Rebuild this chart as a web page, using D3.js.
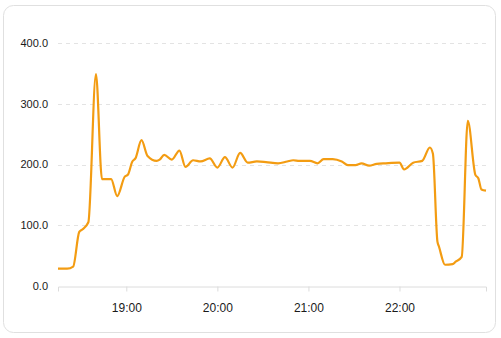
<!DOCTYPE html>
<html>
<head>
<meta charset="utf-8">
<script src="https://cdn.jsdelivr.net/npm/d3@7"></script>
<style>
  html, body { margin: 0; padding: 0; background: #fff; }
  #chart { width: 501px; height: 338px; }
  text { font-family: "Liberation Sans", Arial, sans-serif; }
</style>
</head>
<body>
<div id="chart"></div>
<script>
// sample times (HH:MM) and readings
var times = ["18:15","18:21","18:25","18:29","18:31","18:35","18:40","18:44","18:50","18:54",
  "18:59","19:01","19:04","19:06","19:10","19:14","19:20","19:22","19:25","19:30",
  "19:35","19:39","19:44","19:49","19:55","20:00","20:05","20:10","20:15","20:20",
  "20:26","20:32","20:40","20:46","20:50","20:54","21:01","21:06","21:10","21:16",
  "21:22","21:26","21:31","21:35","21:40","21:45","21:51","22:00","22:03","22:09",
  "22:15","22:20","22:22","22:25","22:26","22:30","22:35","22:37","22:41","22:45",
  "22:50","22:52","22:54","22:57"];
var values = [28.5,28.5,32,89,93,105,349,176,176,148,
  180,183,205,210,240,214,206,208,216,208,
  223,196,207,205,210,195,212,195,219,203,
  205,204,202,205,207,206,206,202,209,209,
  205,199,199,202,198,201,202,203,192,203,
  206,228,218,73,65,35,36,40,48,272,
  183,177,159,157];
var yTicks = [0, 100, 200, 300, 400];
var xTicks = ["19:00", "20:00", "21:00", "22:00"];

var W = 501, H = 338;
var margin = {top: 43, right: 15, bottom: 52, left: 58};

var parse = d3.timeParse("%H:%M");
var data = times.map(function(t, i) { return {t: parse(t), v: values[i]}; });

var svg = d3.select("#chart").append("svg")
  .attr("width", W)
  .attr("height", H);

// card
svg.append("rect")
  .attr("x", 3.5).attr("y", 5.5)
  .attr("width", 492).attr("height", 327)
  .attr("rx", 10)
  .attr("fill", "#fff")
  .attr("stroke", "#e0e0e0");

var x = d3.scaleTime()
  .domain(d3.extent(data, function(d) { return d.t; }))
  .range([margin.left, W - margin.right]);

var y = d3.scaleLinear()
  .domain([0, 400])
  .range([H - margin.bottom, margin.top]);

// grid
svg.append("g")
  .selectAll("line")
  .data(yTicks.filter(function(d) { return d > 0; }))
  .enter().append("line")
    .attr("x1", margin.left).attr("x2", W - margin.right)
    .attr("y1", function(d) { return Math.round(y(d)) + 0.5; })
    .attr("y2", function(d) { return Math.round(y(d)) + 0.5; })
    .attr("stroke", "#e3e3e3")
    .attr("stroke-dasharray", "4,4");

// y labels
svg.append("g")
  .selectAll("text")
  .data(yTicks)
  .enter().append("text")
    .attr("x", 48)
    .attr("y", function(d) { return y(d); })
    .attr("dy", "0.35em")
    .attr("text-anchor", "end")
    .attr("font-size", "11px")
    .attr("fill", "#1a1a1a")
    .text(function(d) { return d3.format(".1f")(d); });

// x axis
var xa = svg.append("g")
  .attr("transform", "translate(0," + (Math.round(y(0)) + 0.5) + ")")
  .call(d3.axisBottom(x)
    .tickValues(xTicks.map(parse))
    .tickFormat(d3.timeFormat("%H:%M"))
    .tickSize(5)
    .tickPadding(12));
xa.select(".domain").attr("stroke", "#dcdcdc");
xa.selectAll(".tick line").attr("stroke", "#dcdcdc");
xa.selectAll("text")
  .attr("font-size", "12px")
  .attr("fill", "#1a1a1a")
  .style("font-family", "'Liberation Sans', Arial, sans-serif");

// series
var line = d3.line()
  .x(function(d) { return x(d.t); })
  .y(function(d) { return y(d.v); })
  .curve(d3.curveMonotoneX);

svg.append("path")
  .datum(data)
  .attr("d", line)
  .attr("fill", "none")
  .attr("stroke", "#f39c12")
  .attr("stroke-width", 2.2)
  .attr("stroke-linejoin", "round");
</script>
</body>
</html>
